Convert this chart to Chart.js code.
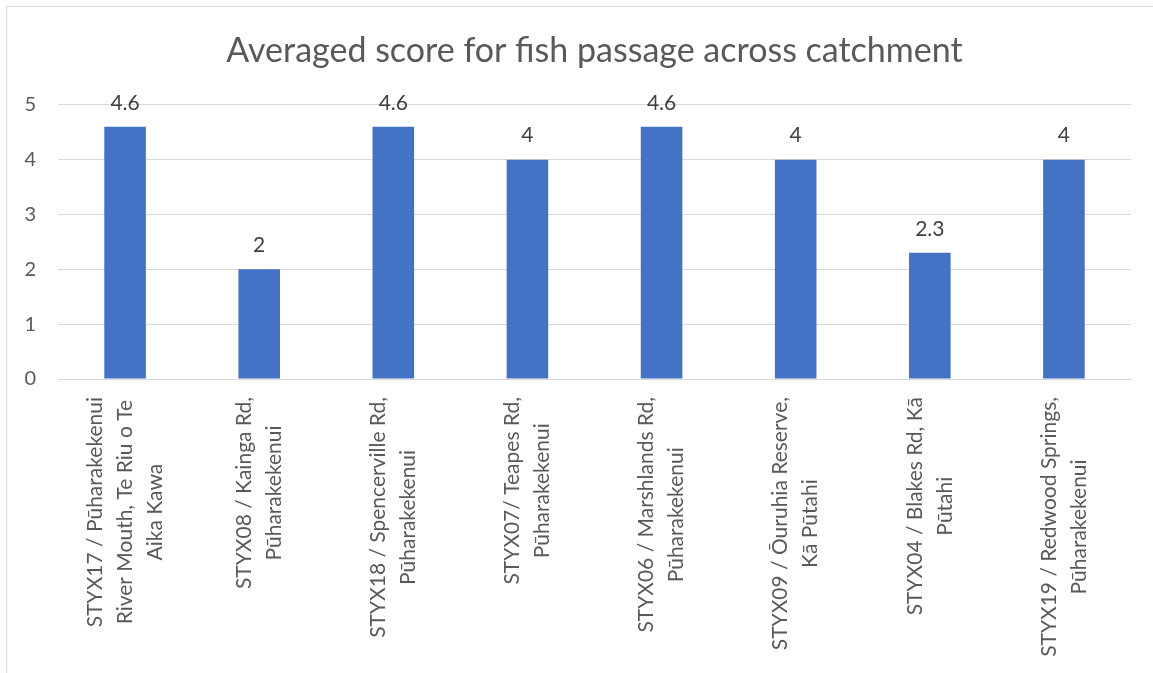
<!DOCTYPE html>
<html>
<head>
<meta charset="utf-8">
<title>Averaged score for fish passage across catchment</title>
<script src="https://cdn.jsdelivr.net/npm/chart.js@4"></script>
<style>
    html, body { margin: 0; padding: 0; background: #fff; overflow: hidden; }
    #wrap { position: relative; width: 1153px; height: 673px; }
    #frame { position: absolute; left: 6px; top: 6px; width: 1200px; height: 700px; border: 1px solid #d9d9d9; }
    #chart { position: absolute; left: 0; top: 0; }
</style>
</head>
<body>
<div id="wrap">
    <div id="frame"></div>
    <canvas id="chart" width="1153" height="673"></canvas>
</div>
<script>
// Sites along the x axis, each split into the lines Excel wrapped them into
const categories = [
    ['STYX17 / Pūharakekenui', 'River Mouth, Te Riu o Te', 'Aika Kawa'],
    ['STYX08 / Kainga Rd,', 'Pūharakekenui'],
    ['STYX18 / Spencerville Rd,', 'Pūharakekenui'],
    ['STYX07/ Teapes Rd,', 'Pūharakekenui'],
    ['STYX06 / Marshlands Rd,', 'Pūharakekenui'],
    ['STYX09 / Ōuruhia Reserve,', 'Kā Pūtahi'],
    ['STYX04 / Blakes Rd, Kā', 'Pūtahi'],
    ['STYX19 / Redwood Springs,', 'Pūharakekenui']
];
const scores = [4.6, 2, 4.6, 4, 4.6, 4, 2.3, 4];
const yMin = 0;
const yMax = 5;
const yStep = 1;

const FONT = 'Lato, "Open Sans", sans-serif';
const TEXT_GREY = '#595959';

// category labels, rotated and centred line by line like Excel does
const categoryLabels = {
    id: 'categoryLabels',
    afterDraw(chart) {
        const ctx = chart.ctx;
        const x = chart.scales.x;
        ctx.save();
        ctx.font = '21px ' + FONT;
        ctx.fillStyle = TEXT_GREY;
        ctx.textAlign = 'center';
        ctx.textBaseline = 'middle';
        categories.forEach(function(lines, i) {
            const maxW = Math.max.apply(null, lines.map(l => ctx.measureText(l).width));
            ctx.save();
            ctx.translate(x.getPixelForValue(i), x.top + 18 + maxW / 2);
            ctx.rotate(-Math.PI / 2);
            lines.forEach(function(line, j) {
                ctx.fillText(line, 0, (j - (lines.length - 1) / 2) * 30);
            });
            ctx.restore();
        });
        ctx.restore();
    }
};

// value above each bar
const valueLabels = {
    id: 'valueLabels',
    afterDatasetsDraw(chart) {
        const ctx = chart.ctx;
        const meta = chart.getDatasetMeta(0);
        ctx.save();
        ctx.font = '21px ' + FONT;
        ctx.fillStyle = '#404040';
        ctx.textAlign = 'center';
        ctx.textBaseline = 'middle';
        meta.data.forEach(function(bar, i) {
            ctx.fillText(String(scores[i]), bar.x, bar.y - 24);
        });
        ctx.restore();
    }
};

document.addEventListener('DOMContentLoaded', function() {
    const ctx = document.getElementById('chart');
    new Chart(ctx, {
        type: 'bar',
        data: {
            labels: categories.map(c => c.join(' ')),
            datasets: [{
                data: scores,
                backgroundColor: '#4472C4',
                borderWidth: 0,
                barPercentage: 0.31,
                categoryPercentage: 1
            }]
        },
        options: {
            responsive: false,
            animation: false,
            layout: { padding: { left: 0, right: 22, top: 0, bottom: 0 } },
            plugins: {
                legend: { display: false },
                tooltip: { enabled: false },
                title: {
                    display: true,
                    fullSize: false,
                    text: 'Averaged score for fish passage across catchment',
                    color: TEXT_GREY,
                    font: { family: FONT, size: 34, weight: 'normal', lineHeight: 1.2 },
                    padding: { top: 31, bottom: 33 }
                }
            },
            scales: {
                x: {
                    grid: { display: false },
                    border: { display: true, color: '#d9d9d9' },
                    ticks: { display: false },
                    afterFit: function(scale) { scale.height = 294; }
                },
                y: {
                    min: yMin,
                    max: yMax,
                    grid: { color: '#d9d9d9', lineWidth: 1, drawTicks: false },
                    border: { display: false },
                    ticks: {
                        stepSize: yStep,
                        padding: 22,
                        color: TEXT_GREY,
                        font: { family: FONT, size: 20 }
                    },
                    afterFit: function(scale) { scale.width = 58; }
                }
            }
        },
        plugins: [categoryLabels, valueLabels]
    });
});
</script>
</body>
</html>
